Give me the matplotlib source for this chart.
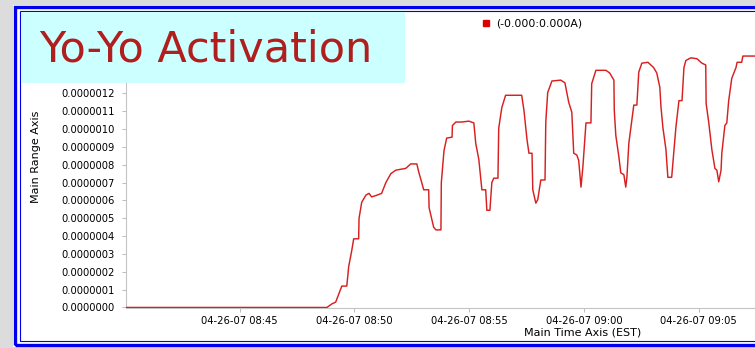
import pandas as pd
import numpy as np
import matplotlib
matplotlib.use("Agg")
import matplotlib.pyplot as plt
import matplotlib.dates as mdates
from matplotlib.patches import Rectangle
from matplotlib.lines import Line2D

# 측정 데이터 (04-26-07, EST) : 시각 / 전류 (단위 1e-7 A)
sample_date = "2007-04-26"
sample_times = [
    "08:40:05", "08:48:48", "08:49:01", "08:49:11", "08:49:27", "08:49:40",
    "08:49:45", "08:49:53", "08:49:58", "08:50:11", "08:50:12", "08:50:19",
    "08:50:30", "08:50:38", "08:50:45", "08:50:59", "08:51:11", "08:51:22",
    "08:51:35", "08:51:48", "08:52:14", "08:52:27", "08:52:43", "08:52:48",
    "08:53:01", "08:53:14", "08:53:15", "08:53:27", "08:53:33", "08:53:46",
    "08:53:47", "08:53:54", "08:54:01", "08:54:15", "08:54:16", "08:54:25",
    "08:54:41", "08:54:59", "08:55:12", "08:55:17", "08:55:25", "08:55:33",
    "08:55:43", "08:55:46", "08:55:54", "08:55:59", "08:56:04", "08:56:15",
    "08:56:17", "08:56:25", "08:56:35", "08:57:17", "08:57:23", "08:57:31",
    "08:57:36", "08:57:44", "08:57:46", "08:57:54", "08:57:59", "08:58:07",
    "08:58:18", "08:58:20", "08:58:25", "08:58:36", "08:58:59", "08:59:10",
    "08:59:20", "08:59:28", "08:59:33", "08:59:41", "08:59:46", "08:59:52",
    "08:59:57", "09:00:05", "09:00:18", "09:00:20", "09:00:31", "09:00:57",
    "09:01:07", "09:01:18", "09:01:19", "09:01:23", "09:01:31", "09:01:36",
    "09:01:44", "09:01:49", "09:01:52", "09:01:57", "09:02:05", "09:02:10",
    "09:02:18", "09:02:23", "09:02:31", "09:02:47", "09:03:02", "09:03:10",
    "09:03:18", "09:03:21", "09:03:26", "09:03:34", "09:03:39", "09:03:49",
    "09:03:55", "09:04:00", "09:04:08", "09:04:16", "09:04:21", "09:04:26",
    "09:04:39", "09:04:55", "09:05:08", "09:05:18", "09:05:19", "09:05:26",
    "09:05:34", "09:05:42", "09:05:47", "09:05:52", "09:05:58", "09:06:00",
    "09:06:08", "09:06:13", "09:06:18", "09:06:26", "09:06:37", "09:06:40",
    "09:06:52", "09:06:55", "09:07:40",
]
current_e7 = [
    0.0, 0.0, 0.2, 0.3, 1.2, 1.2,
    2.3, 3.2, 3.85, 3.85, 5.0, 5.9,
    6.3, 6.4, 6.2, 6.3, 6.4, 7.0,
    7.5, 7.7, 7.8, 8.05, 8.05, 7.6,
    6.6, 6.6, 5.6, 4.5, 4.35, 4.35,
    7.0, 8.8, 9.5, 9.55, 10.2, 10.4,
    10.4, 10.45, 10.35, 9.2, 8.3, 6.6,
    6.6, 5.45, 5.45, 7.0, 7.25, 7.25,
    10.05, 11.2, 11.9, 11.9, 11.05, 9.4,
    8.65, 8.65, 6.6, 5.85, 6.05, 7.15,
    7.15, 10.4, 12.05, 12.7, 12.75, 12.6,
    11.5, 10.95, 8.65, 8.55, 8.25, 6.75,
    7.9, 10.35, 10.35, 12.55, 13.3, 13.3,
    13.15, 12.75, 11.05, 9.65, 8.45, 7.55,
    7.45, 6.75, 7.3, 9.2, 10.5, 11.35,
    11.35, 13.2, 13.7, 13.75, 13.45, 13.15,
    12.35, 11.25, 10.1, 8.85, 7.3, 7.3,
    8.85, 10.1, 11.6, 11.6, 13.45, 13.85,
    14.0, 13.95, 13.7, 13.6, 11.45, 10.35,
    8.85, 7.8, 7.7, 7.05, 7.7, 8.65,
    10.2, 10.35, 11.6, 12.85, 13.45, 13.75,
    13.75, 14.1, 14.1,
]
y_ticks_e7 = np.arange(0, 13, 1)
x_tick_times = ["08:45", "08:50", "08:55", "09:00", "09:05"]

series_label = "(-0.000:0.000A)"
title_text = "Yo-Yo Activation"
x_label = "Main Time Axis (EST)"
y_label = "Main Range Axis"

times = pd.to_datetime([f"{sample_date} {t}" for t in sample_times])
current = np.array(current_e7) * 1e-7
x_ticks = pd.to_datetime([f"{sample_date} {t}" for t in x_tick_times])

W, H = 755, 348


def fx(px):
    return px / W


def fy(py):
    return 1 - py / H


fig = plt.figure(figsize=(W / 100, H / 100), dpi=100, facecolor="#dcdcdc")

# 슬라이드 배경 / 파란 테두리
fig.patches.append(Rectangle((fx(13), fy(347)), fx(800) - fx(13), fy(5) - fy(347),
                             transform=fig.transFigure, facecolor="white",
                             edgecolor="none", zorder=-3))
fig.patches.append(Rectangle((fx(15), fy(345)), fx(800), fy(7) - fy(345),
                             transform=fig.transFigure, facecolor="none",
                             edgecolor="#0000ee", linewidth=2.4, zorder=-2))
fig.patches.append(Rectangle((fx(19.5), fy(340.5)), fx(800), fy(11) - fy(340.5),
                             transform=fig.transFigure, facecolor="none",
                             edgecolor="#0000ee", linewidth=0.8, zorder=-2))

# 그래프 영역 (오른쪽은 그림 밖까지 이어짐)
ax_left, ax_bottom, ax_top = 126, 308, 40
x_start = pd.Timestamp(f"{sample_date} 08:40:03")
x_end = pd.Timestamp(f"{sample_date} 09:10:03")
px_per_min = 22.96
ax_width = 30 * px_per_min
ax = fig.add_axes([fx(ax_left), fy(ax_bottom), ax_width / W, (ax_bottom - ax_top) / H])
ax.set_facecolor("none")

ax.plot(times, current, color="#d82020", linewidth=1.05, zorder=5)

ax.set_xlim(x_start, x_end)
ax.set_ylim(-0.03e-7, 1.5e-6)
ax.set_yticks(y_ticks_e7 * 1e-7)
ax.yaxis.set_major_formatter(plt.FuncFormatter(lambda v, p: f"{v:.7f}"))
ax.set_xticks(x_ticks)
ax.xaxis.set_major_formatter(mdates.DateFormatter("%m-%d-%y %H:%M"))

for side in ["top", "right"]:
    ax.spines[side].set_visible(False)
for side in ["left", "bottom"]:
    ax.spines[side].set_color("#c4c4c4")
    ax.spines[side].set_linewidth(0.8)
ax.tick_params(axis="both", colors="#bbbbbb", labelcolor="black", labelsize=7.2,
               length=3, width=0.7)
ax.tick_params(axis="y", pad=5)
ax.tick_params(axis="x", pad=3)

ax.set_xlabel(x_label, fontsize=8)
ax.xaxis.set_label_coords((583 - ax_left) / ax_width, (ax_bottom - 327.5) / (ax_bottom - ax_top))
ax.set_ylabel(y_label, fontsize=8)
ax.yaxis.set_label_coords((41 - ax_left) / ax_width, (ax_bottom - 157) / (ax_bottom - ax_top))

# 범례
handle = Line2D([], [], marker="s", color="#dd0000", linestyle="None", markersize=4.5)
ax.legend(handles=[handle], labels=[series_label], loc="center left",
          bbox_to_anchor=(fx(482), fy(24)), bbox_transform=fig.transFigure,
          frameon=False, fontsize=7.8, handlelength=0.8, handletextpad=0.5,
          borderpad=0, borderaxespad=0)

# 제목 박스
fig.patches.append(Rectangle((fx(21), fy(83)), fx(405) - fx(21), fy(12) - fy(83),
                             transform=fig.transFigure, facecolor="#ccffff",
                             edgecolor="none", zorder=2))
fig.text(fx(39), fy(62), title_text, fontsize=31, color="#b01e1e",
         va="baseline", ha="left", zorder=3)

fig.savefig("out.png", dpi=100, facecolor=fig.get_facecolor())
